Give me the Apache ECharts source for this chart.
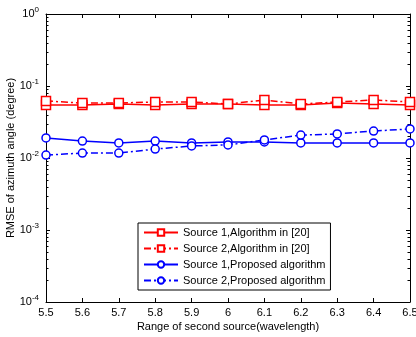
<!DOCTYPE html>
<html>
<head>
<meta charset="utf-8">
<script src="https://cdn.jsdelivr.net/npm/echarts@6/dist/echarts.min.js"></script>
<style>
html,body{margin:0;padding:0;background:#fff;}
#chart{width:416px;height:337px;}
</style>
</head>
<body>
<div id="chart"></div>
<script>
var xs=[5.5,5.6,5.7,5.8,5.9,6.0,6.1,6.2,6.3,6.4,6.5];
var s1_alg=[0.0545,0.0545,0.0562,0.0545,0.0562,0.0562,0.0545,0.0545,0.058,0.0562,0.0545];
var s2_alg=[0.062,0.058,0.058,0.060,0.060,0.0562,0.064,0.0562,0.060,0.064,0.060];
var s1_prop=[0.0190,0.0172,0.0162,0.0172,0.0162,0.0167,0.0167,0.0162,0.0162,0.0162,0.0162];
var s2_prop=[0.0110,0.0117,0.0117,0.0133,0.0147,0.0152,0.0178,0.0208,0.0216,0.0237,0.0253];
var names=['Source 1,Algorithm in [20]','Source 2,Algorithm in [20]','Source 1,Proposed algorithm','Source 2,Proposed algorithm'];

function pairs(v){
	var out=[];
	for(var i=0;i<xs.length;i++){out.push([xs[i],v[i]]);}
	return out;
}
function expLabel(v){
	var e=Math.round(Math.log(v)/Math.LN10);
	return '10{sup|'+e+'}';
}

var dashDot=[7,3,2,3];
var font='Liberation Sans, Arial, sans-serif';

var option={
	animation:false,
	backgroundColor:'#fff',
	grid:{left:46,right:6,top:14,bottom:35,outerBoundsMode:'none',containLabel:false},
	legend:{
		orient:'vertical',
		left:138,
		top:223,
		padding:[4,5,4,5],
		itemGap:5,
		itemWidth:34,
		itemHeight:8,
		backgroundColor:'#fff',
		borderColor:'#000',
		borderWidth:1,
		borderRadius:0,
		textStyle:{fontFamily:font,fontSize:11,color:'#000'},
		data:names
	},
	xAxis:[{
		type:'value',min:5.5,max:6.5,interval:0.1,
		name:'Range of second source(wavelength)',
		nameLocation:'middle',nameGap:19,nameMoveOverlap:false,
		nameTextStyle:{fontFamily:font,fontSize:11,color:'#000'},
		axisLine:{lineStyle:{color:'#000',width:1}},
		axisTick:{inside:true,length:4,lineStyle:{color:'#000'}},
		axisLabel:{fontFamily:font,fontSize:11,color:'#000',margin:5},
		splitLine:{show:false}
	},{
		type:'value',min:5.5,max:6.5,interval:0.1,position:'top',
		axisLine:{lineStyle:{color:'#000',width:1}},
		axisTick:{inside:true,length:4,lineStyle:{color:'#000'}},
		axisLabel:{show:false},
		splitLine:{show:false}
	}],
	yAxis:[{
		type:'log',min:0.0001,max:1,logBase:10,
		name:'RMSE of azimuth angle (degree)',
		nameLocation:'middle',nameGap:30,nameMoveOverlap:false,
		nameTextStyle:{fontFamily:font,fontSize:11,color:'#000'},
		axisLine:{lineStyle:{color:'#000',width:1}},
		axisTick:{inside:true,length:4,lineStyle:{color:'#000'}},
		axisLabel:{
			fontFamily:font,fontSize:11,color:'#000',margin:7,
			formatter:expLabel,
			rich:{sup:{fontFamily:font,fontSize:8,verticalAlign:'bottom',padding:[0,0,8,0],color:'#000'}}
		},
		splitLine:{show:false}
	},{
		type:'log',min:0.0001,max:1,logBase:10,position:'right',
		axisLine:{lineStyle:{color:'#000',width:1}},
		axisTick:{inside:true,length:4,lineStyle:{color:'#000'}},
		axisLabel:{show:false},
		splitLine:{show:false}
	}],
	series:[{
		name:names[0],type:'line',data:pairs(s1_alg),
		symbol:'rect',symbolSize:9,
		lineStyle:{color:'#ff0000',width:1.5,type:'solid'},
		itemStyle:{color:'#fff',borderColor:'#ff0000',borderWidth:1.5}
	},{
		name:names[1],type:'line',data:pairs(s2_alg),
		symbol:'rect',symbolSize:9,
		lineStyle:{color:'#ff0000',width:1.5,type:dashDot},
		itemStyle:{color:'#fff',borderColor:'#ff0000',borderWidth:1.5}
	},{
		name:names[2],type:'line',data:pairs(s1_prop),
		symbol:'circle',symbolSize:8,
		lineStyle:{color:'#0000ff',width:1.5,type:'solid'},
		itemStyle:{color:'#fff',borderColor:'#0000ff',borderWidth:1.5}
	},{
		name:names[3],type:'line',data:pairs(s2_prop),
		symbol:'circle',symbolSize:8,
		lineStyle:{color:'#0000ff',width:1.5,type:dashDot},
		itemStyle:{color:'#fff',borderColor:'#0000ff',borderWidth:1.5}
	}]
};

var myChart=echarts.init(document.getElementById('chart'));
myChart.setOption(option);

// minor ticks of the log axis (2..9 per decade), on both sides
var els=[];
var xl=myChart.convertToPixel({xAxisIndex:0},5.5);
var xr=myChart.convertToPixel({xAxisIndex:0},6.5);
for(var d=-4;d<0;d++){
	for(var k=2;k<10;k++){
		var py=Math.round(myChart.convertToPixel({yAxisIndex:0},k*Math.pow(10,d)))+0.5;
		els.push({type:'line',shape:{x1:xl,y1:py,x2:xl+2.5,y2:py},style:{stroke:'#000',lineWidth:1}});
		els.push({type:'line',shape:{x1:xr-2.5,y1:py,x2:xr,y2:py},style:{stroke:'#000',lineWidth:1}});
	}
}
myChart.setOption({graphic:els});
</script>
</body>
</html>
